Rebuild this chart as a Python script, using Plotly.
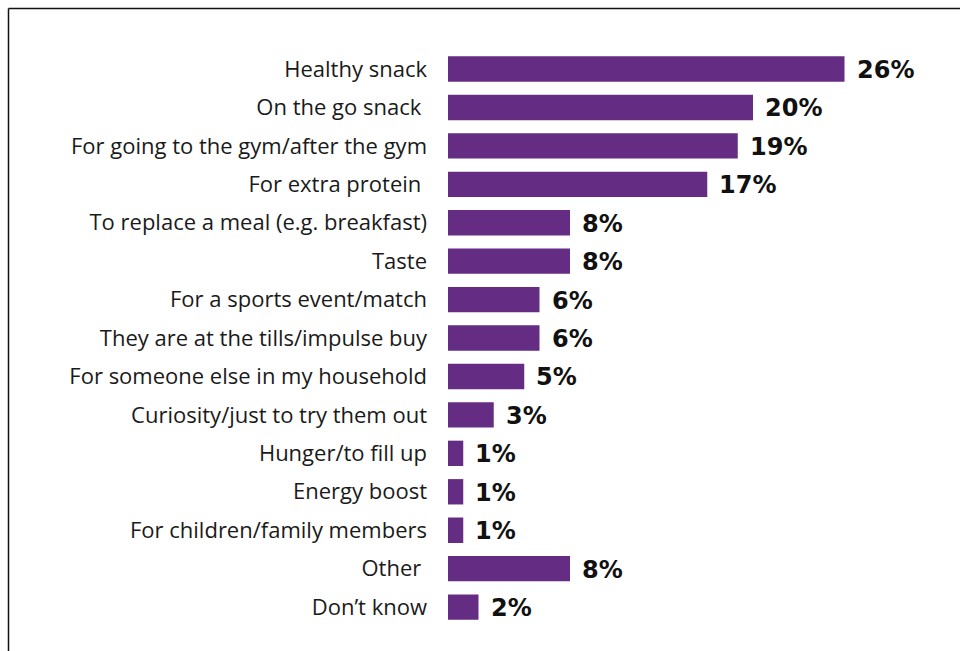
import plotly.graph_objects as go

categories = [
    "Healthy snack",
    "On the go snack\u00a0",
    "For going to the gym/after the gym",
    "For extra protein\u00a0",
    "To replace a meal (e.g. breakfast)",
    "Taste",
    "For a sports event/match",
    "They are at the tills/impulse buy",
    "For someone else in my household",
    "Curiosity/just to try them out",
    "Hunger/to fill up",
    "Energy boost",
    "For children/family members",
    "Other\u00a0",
    "Don\u2019t know",
]
values = [26, 20, 19, 17, 8, 8, 6, 6, 5, 3, 1, 1, 1, 8, 2]
value_labels = [f"{v}%" for v in values]

W, H = 960, 651
x0_px, px_per_unit = 448, 15.25
top_px, bot_px = 49.8, 626.3

fig = go.Figure()
fig.add_trace(go.Bar(
    x=values, y=categories, orientation="h",
    marker=dict(color="#652c83", line=dict(width=0)),
    width=0.66,
    hoverinfo="skip",
))

for v, c, t in zip(values, categories, value_labels):
    fig.add_annotation(x=v, y=c, text=f"<b>{t}</b>", showarrow=False,
                       xanchor="left", xshift=10, yshift=-1,
                       font=dict(family="DejaVu Sans, sans-serif", size=24, color="#111111"))

x_range_max = (W - x0_px) / px_per_unit
fig.update_layout(
    width=W, height=H,
    margin=dict(l=0, r=0, t=0, b=0),
    paper_bgcolor="white", plot_bgcolor="white",
    showlegend=False,
    xaxis=dict(domain=[x0_px / W, 1], range=[0, x_range_max], visible=False),
    yaxis=dict(domain=[(H - bot_px) / H, (H - top_px) / H],
               categoryorder="array", categoryarray=categories,
               autorange="reversed", showgrid=False, zeroline=False,
               showline=False, ticks="", ticklabelstandoff=20,
               tickfont=dict(family="Open Sans, sans-serif", size=22, color="#1a1a1a")),
    shapes=[
        dict(type="line", xref="paper", yref="paper", x0=8.5 / W, x1=1,
             y0=(H - 8.5) / H, y1=(H - 8.5) / H, line=dict(color="#111111", width=1.5)),
        dict(type="line", xref="paper", yref="paper", x0=8.5 / W, x1=8.5 / W,
             y0=0, y1=(H - 8.5) / H, line=dict(color="#111111", width=1.5)),
    ],
)

fig.write_html("out.html")
